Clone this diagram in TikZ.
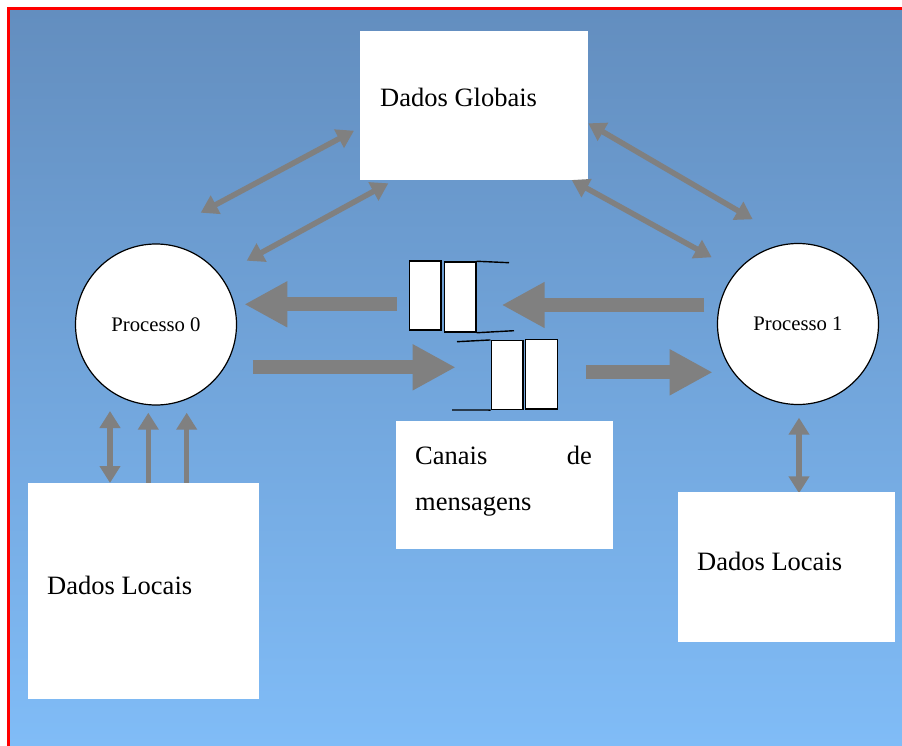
\documentclass[tikz,border=0pt]{standalone}
\usepackage{fontspec}
\setmainfont{Liberation Serif}
\usetikzlibrary{arrows.meta}

\definecolor{skytop}{RGB}{99,142,191}
\definecolor{skybot}{RGB}{128,188,247}
\definecolor{arrowgray}{RGB}{128,128,128}

\tikzset{
  whitebox/.style={draw=none, fill=white},
  procnode/.style={circle, draw=black, line width=1.2pt, fill=white,
    minimum size=161pt, inner sep=0pt, font=\fontsize{20.7}{24}\selectfont},
  boxtext/.style={anchor=base west, inner sep=0pt, font=\fontsize{26.5}{30}\selectfont},
  link/.style={draw=arrowgray, line width=5.5pt,
    {Triangle[length=17pt,width=20pt]}-{Triangle[length=17pt,width=20pt]}},
  uplink/.style={draw=arrowgray, line width=5.5pt, -{Triangle[length=17pt,width=20pt]}},
  flow/.style={draw=arrowgray, line width=14pt, -{Triangle[length=43pt,width=43pt]}},
  slot/.style={draw=black, line width=1.5pt, fill=white},
  rail/.style={draw=black, line width=1.4pt}
}

\begin{document}
\begin{tikzpicture}[x=1pt, y=-1pt]
\useasboundingbox (0,0) rectangle (902,746);

% backdrop and frame
\shade[top color=skytop, bottom color=skybot] (10,10) rectangle (902,746);
\draw[red, line width=3pt] (8.8,8.8) rectangle (930,780);

% data stores
\node[whitebox, minimum width=228pt, minimum height=149pt, inner sep=0pt] (dg) at (474,105.5) {};
\node[boxtext] (dgt) at (380,107) {Dados Globais};

% processes
\node[procnode] (p0) at (156,324.5) {Processo 0};
\node[procnode] (p1) at (798,324) {Processo 1};

% links to global data
\coordinate (a1) at (200.7,212.7); \coordinate (a2) at (354,130.7);
\coordinate (b1) at (246.7,260.7); \coordinate (b2) at (388.3,183.3);
\coordinate (c1) at (588.3,123.3); \coordinate (c2) at (752.7,219.3);
\coordinate (d1) at (571.7,180);   \coordinate (d2) at (711.7,257.3);
\draw[link] (a1) -- (a2);
\draw[link] (b1) -- (b2);
\draw[link] (c1) -- (c2);
\draw[link] (d1) -- (d2);

% links to local data
\coordinate (l1t) at (110,411);   \coordinate (l1b) at (110,483);
\coordinate (l2t) at (148.3,412.7); \coordinate (l2b) at (148.3,483);
\coordinate (l3t) at (186.7,412.7); \coordinate (l3b) at (186.7,483);
\coordinate (r1t) at (799,417.7); \coordinate (r1b) at (799,493.3);
\draw[link] (l1t) -- (l1b);
\draw[uplink] (l2b) -- (l2t);
\draw[uplink] (l3b) -- (l3t);
\draw[link] (r1t) -- (r1b);

\node[whitebox, minimum width=231pt, minimum height=216pt, inner sep=0pt] (dl0) at (143.5,591) {};
\node[boxtext] (dl0t) at (47,594) {Dados Locais};
\node[whitebox, minimum width=217pt, minimum height=150pt, inner sep=0pt] (dl1) at (786.5,567) {};
\node[boxtext] (dl1t) at (697,570.5) {Dados Locais};

% message channels
\node[slot, minimum width=31.5pt, minimum height=69pt, inner sep=0pt] (q1a) at (425,295.5) {};
\node[slot, minimum width=31.5pt, minimum height=70pt, inner sep=0pt] (q1b) at (460,297) {};
\coordinate (q1u) at (509,262.7); \coordinate (q1d) at (514,330.7);
\draw[rail] (q1b.north east) -- (q1u);
\draw[rail] (q1b.south east) -- (q1d);

\node[slot, minimum width=31.5pt, minimum height=68.6pt, inner sep=0pt] (q2a) at (507,375) {};
\node[slot, minimum width=32pt, minimum height=69.3pt, inner sep=0pt] (q2b) at (541.7,374.3) {};
\coordinate (q2u) at (457,341.7); \coordinate (q2d) at (452,410);
\draw[rail] (q2a.north west) -- (q2u);
\draw[rail] (q2a.south west) -- (q2d);

% message flow
\coordinate (f1s) at (396.7,304.3); \coordinate (f1e) at (244.3,304.3);
\coordinate (f2s) at (252.7,367.3); \coordinate (f2e) at (455.7,367.3);
\coordinate (f3s) at (704.3,305);   \coordinate (f3e) at (501.7,305);
\coordinate (f4s) at (586,372.3);   \coordinate (f4e) at (712.7,372.3);
\draw[flow] (f1s) -- (f1e);
\draw[flow] (f2s) -- (f2e);
\draw[flow] (f3s) -- (f3e);
\draw[flow] (f4s) -- (f4e);

\node[whitebox, minimum width=217pt, minimum height=128pt, inner sep=0pt] (cm) at (504.5,485) {};
\node[boxtext] (cmt1) at (415,464) {Canais};
\node[boxtext, anchor=base east] (cmt2) at (592,464) {de};
\node[boxtext] (cmt3) at (415,510) {mensagens};
\end{tikzpicture}
\end{document}
